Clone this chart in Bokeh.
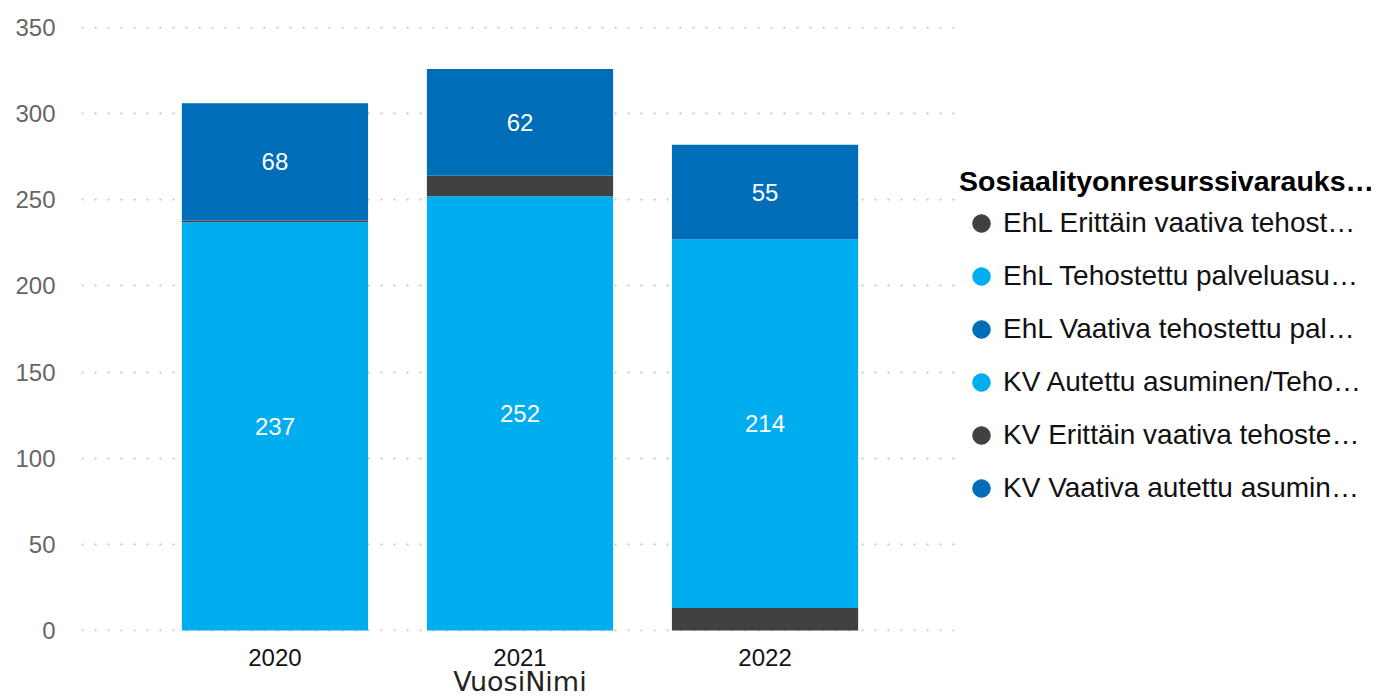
from bokeh.plotting import figure
from bokeh.layouts import row
from bokeh.models import (FactorRange, Range1d, Legend, LegendItem, ColumnDataSource, FixedTicker)
from bokeh.core.properties import value
from bokeh.embed import file_html
from bokeh.resources import INLINE

years = ["2020", "2021", "2022"]
series = [
    "EhL Erittäin vaativa tehost…",
    "EhL Tehostettu palveluasu…",
    "EhL Vaativa tehostettu pal…",
    "KV Autettu asuminen/Teho…",
    "KV Erittäin vaativa tehoste…",
    "KV Vaativa autettu asumin…",
]
ehl_erittain = [0, 0, 13]
ehl_tehostettu = [0, 0, 214]
ehl_vaativa = [0, 0, 55]
kv_autettu = [237, 252, 0]
kv_erittain = [1, 12, 0]
kv_vaativa = [68, 62, 0]
colors = ["#414141", "#00AEEF", "#006DB8", "#00AEEF", "#414141", "#006DB8"]
legend_title = "Sosiaalityonresurssivarauks…"
x_title = "VuosiNimi"
y_ticks = [0, 50, 100, 150, 200, 250, 300, 350]

values = [ehl_erittain, ehl_tehostettu, ehl_vaativa, kv_autettu, kv_erittain, kv_vaativa]
keys = ["s%d" % i for i in range(len(series))]
data = {"year": years}
for k, v in zip(keys, values):
    data[k] = v
source = ColumnDataSource(data)

FONT = "Liberation Sans"

p = figure(
    x_range=FactorRange(factors=years, range_padding=0.193, range_padding_units="percent"),
    y_range=Range1d(-0.6, 350.6),
    width=958, height=699,
    output_backend="svg", toolbar_location=None,
    min_border_left=81, min_border_top=26, min_border_right=0, min_border_bottom=0,
)
p.outline_line_color = None
p.background_fill_color = "white"
p.border_fill_color = "white"

p.vbar_stack(keys, x="year", width=0.76, source=source, color=colors, line_color=None)

# data labels
lx, ly, lt = [], [], []
for i, yr in enumerate(years):
    base = 0
    for v in values:
        val = v[i]
        if val >= 20:
            lx.append(yr)
            ly.append(base + val / 2)
            lt.append(str(val))
        base += val
p.text(x=lx, y=ly, text=lt, text_color="white", text_align="center", text_baseline="middle",
       text_font=value(FONT), text_font_size="24px")

# axes
p.yaxis.ticker = FixedTicker(ticks=y_ticks)
p.yaxis.axis_line_color = None
p.yaxis.major_tick_line_color = None
p.yaxis.minor_tick_line_color = None
p.yaxis.major_label_text_font = FONT
p.yaxis.major_label_text_font_size = "24px"
p.yaxis.major_label_text_color = "#666666"
p.yaxis.major_label_standoff = 20

p.xaxis.axis_line_color = None
p.xaxis.major_tick_line_color = None
p.xaxis.minor_tick_line_color = None
p.xaxis.major_label_text_font = FONT
p.xaxis.major_label_text_font_size = "24px"
p.xaxis.major_label_text_color = "#111111"
p.xaxis.major_label_standoff = 11
p.xaxis.axis_label = x_title
p.xaxis.axis_label_text_font = "DejaVu Sans"
p.xaxis.axis_label_text_font_style = "normal"
p.xaxis.axis_label_text_font_size = "27px"
p.xaxis.axis_label_text_color = "#252423"
p.xaxis.axis_label_standoff = -3

p.xgrid.grid_line_color = None
p.ygrid.grid_line_color = "#C8C8C8"
p.ygrid.grid_line_dash = "2 11"
p.ygrid.grid_line_width = 2

# legend panel: a blank figure holding the legend; its markers lie outside its view
lg = figure(
    x_range=FactorRange(factors=years), y_range=Range1d(1000, 1001),
    width=419, height=699, output_backend="svg", toolbar_location=None,
    x_axis_location=None, y_axis_location=None,
    min_border_left=0, min_border_right=0, min_border_top=0, min_border_bottom=0,
)
lg.outline_line_color = None
lg.xgrid.grid_line_color = None
lg.ygrid.grid_line_color = None
items = []
for k, name, c in zip(keys, series, colors):
    r = lg.scatter(x="year", y=k, source=source, marker="circle", size=20, color=c)
    items.append(LegendItem(label=name, renderers=[r]))
legend = Legend(
    items=items, title=legend_title, location=(1, 118),
    title_text_font=FONT, title_text_font_style="bold", title_text_font_size="28.5px",
    title_text_color="#000000", title_standoff=0,
    label_text_font=FONT, label_text_font_size="28px", label_text_color="#111111",
    glyph_width=44, glyph_height=44, label_height=50, label_standoff=0, spacing=3,
    padding=0, margin=0, border_line_color=None, background_fill_alpha=0,
)
lg.add_layout(legend, "center")

layout = row(p, lg, spacing=0)
open("out.html", "w").write(file_html(layout, INLINE))
